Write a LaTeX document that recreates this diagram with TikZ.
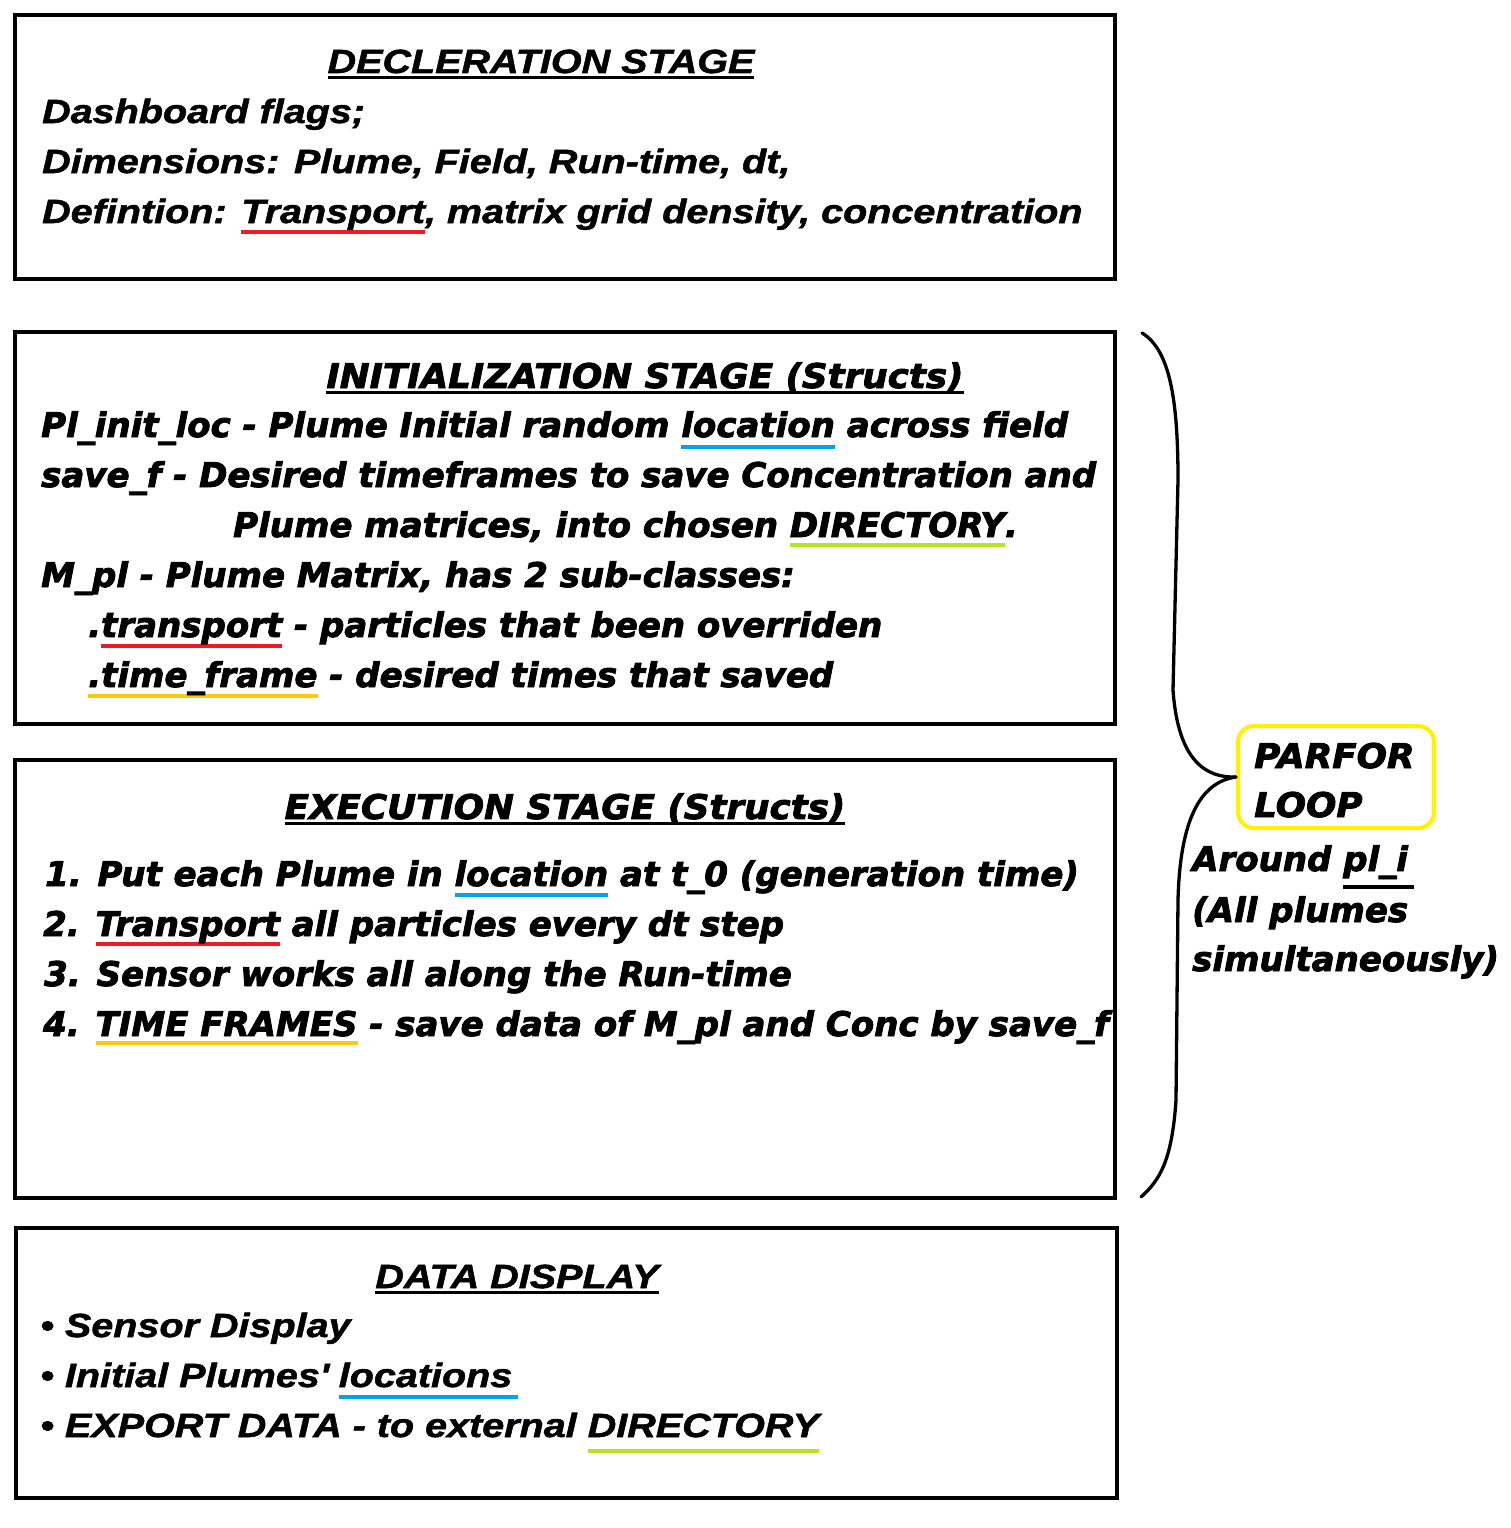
\documentclass[tikz,border=0pt]{standalone}
\usepackage{fontspec}
\newfontfamily\widefam{DejaVu Sans Bold Oblique}[FakeBold=2.5]
\newfontfamily\widecapfam{DejaVu Sans Bold Oblique}[FakeBold=2.5,FakeStretch=1.05]
\newfontfamily\narrowfam{Liberation Sans Bold Italic}[FakeStretch=1.18,FakeBold=1.5]
\definecolor{pred}{RGB}{237,28,36}
\definecolor{pblue}{RGB}{0,162,232}
\definecolor{pgreen}{RGB}{181,230,29}
\definecolor{porange}{RGB}{255,201,14}
\definecolor{pyellow}{RGB}{255,242,0}
\newcommand\wf{\widefam\fontsize{34}{40}\selectfont}
\newcommand\wcf{\widecapfam\fontsize{34}{40}\selectfont}
\newcommand\nf{\narrowfam\fontsize{33.5}{40}\selectfont}
% coloured underline: [depth]{colour}{text}
\newcommand\cul[3][10pt]{\setbox0=\hbox{#3}\rlap{\color{#2}\rule[\dimexpr-#1-2pt\relax]{\wd0}{4pt}}\box0\relax}
% title underline
\newcommand\tul[1]{\setbox0=\hbox{#1}\rlap{\rule[\dimexpr-6pt\relax]{\wd0}{2.6pt}}\box0\relax}
\begin{document}
\begin{tikzpicture}[x=1pt,y=-1pt,
  stagebox/.style={draw, line width=4pt, inner sep=0pt, minimum width=1100pt},
  wtxt/.style={anchor=base west, inner sep=0pt, font=\wf},
  wctxt/.style={anchor=base west, inner sep=0pt, font=\wcf},
  ntxt/.style={anchor=base west, inner sep=0pt, font=\nf},
  wtitle/.style={anchor=base, inner sep=0pt, font=\wcf},
  ntitle/.style={anchor=base, inner sep=0pt, font=\nf},
  bracel/.style={line width=3.3pt, line cap=round},
  loopbox/.style={draw=pyellow, line width=4pt, rounded corners=16pt, inner sep=0pt, minimum width=196pt, minimum height=102pt}]
\useasboundingbox (0,0) rectangle (1510,1528);
\fill[white] (0,0) rectangle (1510,1528);

% stage boxes
\node[stagebox, minimum height=264pt] (decl) at (565,147) {};
\node[stagebox, minimum height=392pt] (init) at (565,528) {};
\node[stagebox, minimum height=438pt] (exec) at (565,979) {};
\node[stagebox, minimum width=1101pt, minimum height=270pt] (data) at (566.5,1363) {};

% DECLERATION STAGE
\node[ntitle] (t1) at (541,73) {\tul{DECLERATION STAGE}};
\node[ntxt] (d1) at (42,123) {Dashboard flags;};
\node[ntxt] (d2) at (42,173) {Dimensions: Plume, Field, Run-time, dt,};
\node[ntxt] (d3) at (42,223) {Defintion: \cul[9pt]{pred}{Transport}, matrix grid density, concentration};

% INITIALIZATION STAGE
\node[wtitle] (t2) at (645,388) {\tul{INITIALIZATION STAGE (Structs)}};
\node[wtxt] (i1) at (41,437) {Pl\_init\_loc - Plume Initial random \cul{pblue}{location} across field};
\node[wtxt] (i2) at (41,487) {save\_f - Desired timeframes to save Concentration and};
\node[wtxt] (i3) at (233,537) {Plume matrices, into chosen \cul[8pt]{pgreen}{DIRECTORY}.};
\node[wtxt] (i4) at (41,587) {M\_pl - Plume Matrix, has 2 sub-classes:};
\node[wtxt] (i5) at (88,637) {.\cul[9pt]{pred}{transport} - particles that been overriden};
\node[wtxt] (i6) at (88,687) {\cul[9pt]{porange}{.time\_frame} - desired times that saved};

% EXECUTION STAGE
\node[wtitle] (t3) at (565,819) {\tul{EXECUTION STAGE (Structs)}};
\node[wtxt] (e1) at (45,886) {1. Put each Plume in \cul[9pt]{pblue}{location} at t\_0 (generation time)};
\node[wtxt] (e2) at (43,936) {2. \cul[8pt]{pred}{Transport} all particles every dt step};
\node[wtxt] (e3) at (44,986) {3. Sensor works all along the Run-time};
\node[wtxt] (e4) at (43,1036) {4. \cul[7pt]{porange}{TIME FRAMES} - save data of M\_pl and Conc by save\_f};

% DATA DISPLAY
\node[ntitle] (t4) at (517,1288) {\tul{DATA DISPLAY}};
\node[ntxt] (s1) at (40,1337) {\textbullet{} Sensor Display};
\node[ntxt] (s2) at (40,1387) {\textbullet{} Initial Plumes\textquotesingle{} \cul{pblue}{locations\,}};
\node[ntxt] (s3) at (40,1437) {\textbullet{} EXPORT DATA - to external \cul[14pt]{pgreen}{DIRECTORY}};

% PARFOR LOOP
\node[loopbox] (loop) at (1336,777) {};
\node[wctxt] (p1) at (1254,768) {PARFOR};
\node[wctxt] (p2) at (1254,817) {LOOP};
\node[wtxt] (p3) at (1192,871) {Around \cul[16pt]{black}{pl\_i\,}};
\node[wtxt] (p4) at (1192,922) {(All plumes};
\node[wtxt] (p5) at (1192,971) {simultaneously)};

% brace
\coordinate (btop) at (1142,333);
\coordinate (bbot) at (1141,1197);
\draw[bracel] (btop) .. controls (1170,350) and (1178,400) .. (1178,480)
  -- (1173,690) .. controls (1178,760) and (1205,778) .. (loop.west);
\draw[bracel] (loop.west) .. controls (1200,782) and (1180,820) .. (1178,900)
  -- (1176,1100) .. controls (1172,1160) and (1160,1180) .. (bbot);
\end{tikzpicture}
\end{document}
